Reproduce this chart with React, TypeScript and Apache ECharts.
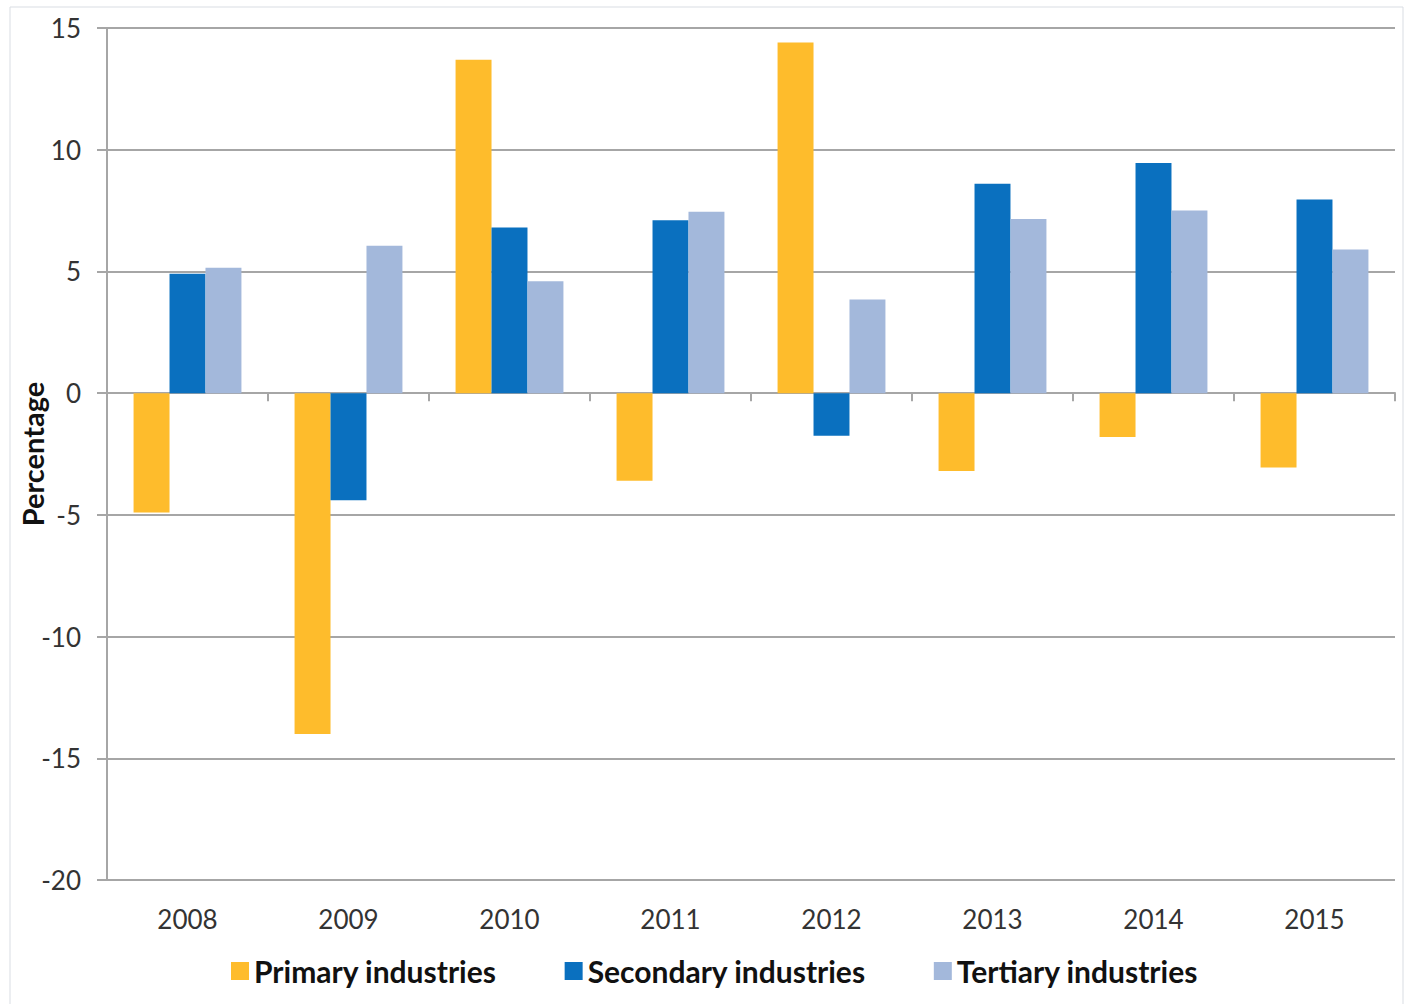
import React, { useEffect, useRef } from "react";
import * as echarts from "echarts";

const years = ["2008", "2009", "2010", "2011", "2012", "2013", "2014", "2015"];
const primary = [-4.9, -14.0, 13.7, -3.6, 14.4, -3.2, -1.8, -3.05];
const secondary = [4.9, -4.4, 6.8, 7.1, -1.75, 8.6, 9.45, 7.95];
const tertiary = [5.15, 6.05, 4.6, 7.45, 3.85, 7.15, 7.5, 5.9];
const seriesNames = ["Primary industries", "Secondary industries", "Tertiary industries"];
const colors = ["#FEBC2C", "#0A70BF", "#A3B8DB"];

const FONT = "Lato, 'Open Sans', sans-serif";

export default function App() {
  const ref = useRef<HTMLDivElement>(null);
  useEffect(() => {
    const chart = echarts.init(ref.current!, null, { renderer: "svg" });
    const data = [primary, secondary, tertiary];
    chart.setOption({
      animation: false,
      backgroundColor: "#ffffff",
      textStyle: { fontFamily: FONT },
      graphic: [
        {
          type: "rect",
          shape: { x: 10, y: 7, width: 1393, height: 1005 },
          style: { fill: "none", stroke: "#d9dde3", lineWidth: 1 },
          silent: true,
          z: -1,
        },
      ],
      grid: {
        left: 107,
        top: 28,
        right: 12,
        bottom: 124,
        containLabel: false,
        outerBoundsMode: "none",
      },
      legend: {
        top: 951,
        left: 226,
        icon: "rect",
        itemWidth: 18,
        itemHeight: 18,
        itemGap: 68,
        textStyle: { fontFamily: FONT, fontSize: 30, fontWeight: "bold", color: "#111" },
        data: seriesNames,
      },
      xAxis: [
        {
          type: "category",
          data: years,
          position: "bottom",
          axisLine: { show: false, onZero: false },
          axisTick: { show: false },
          axisLabel: { fontSize: 26, color: "#333", margin: 26, fontFamily: FONT },
        },
        {
          type: "category",
          data: years,
          position: "bottom",
          axisLine: { show: true, onZero: true, onZeroAxisIndex: 0, lineStyle: { color: "#a6a6a6", width: 2 } },
          axisTick: { show: true, length: 8, lineStyle: { color: "#a6a6a6", width: 2 } },
          axisLabel: { show: false },
        },
      ],
      yAxis: {
        type: "value",
        min: -20,
        max: 15,
        interval: 5,
        name: "Percentage",
        nameLocation: "middle",
        nameRotate: 90,
        nameGap: 60,
        nameMoveOverlap: false,
        nameTextStyle: { fontSize: 29, fontWeight: "bold", color: "#111", fontFamily: FONT },
        axisLine: { show: true, lineStyle: { color: "#a6a6a6", width: 2 } },
        axisTick: { show: true, length: 10, lineStyle: { color: "#a6a6a6", width: 2 } },
        axisLabel: { fontSize: 26, color: "#333", margin: 26, fontFamily: FONT },
        splitLine: { show: true, lineStyle: { color: "#a6a6a6", width: 2 } },
      },
      series: seriesNames.map((name, i) => ({
        name,
        type: "bar",
        xAxisIndex: 0,
        data: data[i],
        barGap: "0%",
        barCategoryGap: "33%",
        itemStyle: { color: colors[i] },
      })),
    });
    return () => chart.dispose();
  }, []);
  return (
    <div
      ref={ref}
      style={{ position: "absolute", left: 0, top: 0, width: 1407, height: 1004 }}
    />
  );
}
